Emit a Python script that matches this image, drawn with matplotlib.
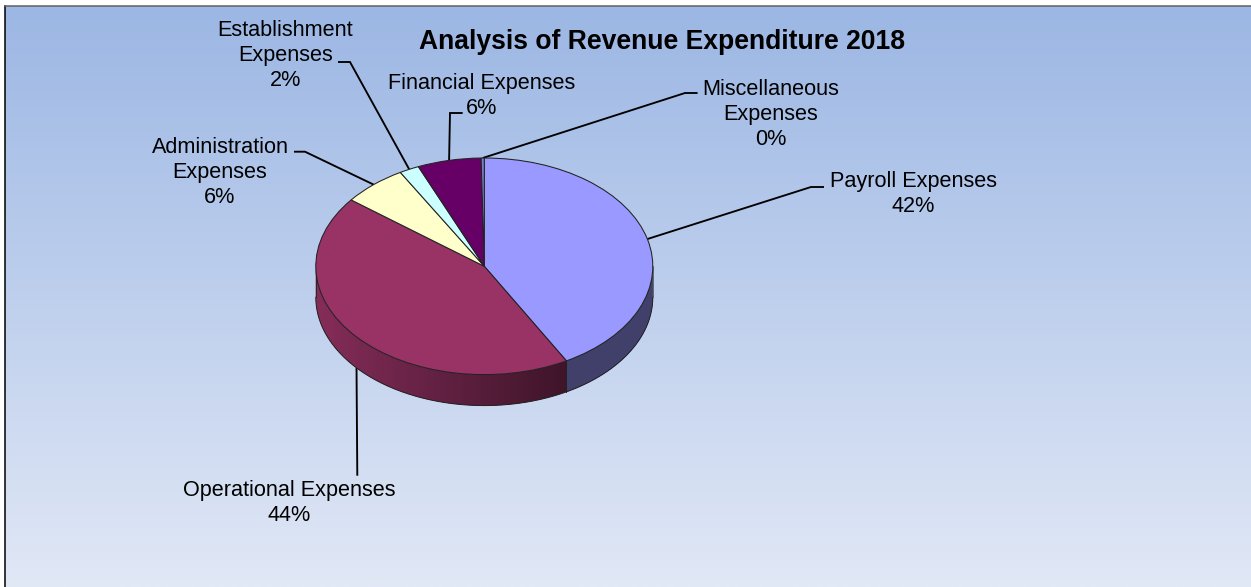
import numpy as np
from matplotlib import pyplot as plt
from matplotlib.colors import LinearSegmentedColormap, to_rgb

plt.rcParams['font.family'] = ['Liberation Sans', 'DejaVu Sans']

title = 'Analysis of Revenue Expenditure 2018'
categories = ['Payroll Expenses', 'Operational Expenses', 'Administration\nExpenses',
              'Establishment\nExpenses', 'Financial Expenses', 'Miscellaneous\nExpenses']
values = [41.9, 43.6, 6.2, 1.9, 6.1, 0.3]
colors = ['#9999FF', '#993366', '#FFFFCC', '#CCFFFF', '#660066', '#7C7CC4']

# label centres and leader elbows, image pixels
label_pos = [(913, 194.5), (289, 503), (220, 172.5), (285.5, 55), (482, 96), (771, 114.5)]
leader_mid = [(811, 187), (357.3, 475.7), (305, 151.7), (350, 62), (450, 113), (685, 93)]
leader_end = [(824, 187), (357.3, 475.7), (294, 151.7), (338, 62), (462.7, 113), (697.6, 93)]

W, H = 1251, 587
cx, cy, rx, ry, depth = 484.3, 266.3, 168.5, 108.3, 31

fig = plt.figure(figsize=(W / 100, H / 100), dpi=100, facecolor='white')
bg = fig.add_axes([0, 0, 1, 1])
bg.set_xlim(0, W)
bg.set_ylim(H, 0)
bg.axis('off')

grad = LinearSegmentedColormap.from_list('bg', ['#9CB7E4', '#E1E8F6'])
bg.imshow(np.linspace(0, 1, 256).reshape(-1, 1), cmap=grad, aspect='auto',
          extent=(5, W, H, 6.5), zorder=0)
bg.set_xlim(0, W)
bg.set_ylim(H, 0)
bg.plot([5, 5], [6, H], color='black', lw=1.1, zorder=1)
bg.plot([5, W], [6.3, 6.3], color='#606060', lw=1.1, zorder=1)

bg.text(662, 42, title, fontsize=19.1, fontweight='bold', ha='center', va='center', color='black')

# angles clockwise from 12 o'clock
edges = np.concatenate([[0], np.cumsum(values)]) / np.sum(values) * 2 * np.pi
mids = (edges[:-1] + edges[1:]) / 2

for i, cat in enumerate(categories):
    x0 = cx + rx * np.sin(mids[i])
    y0 = cy - ry * np.cos(mids[i])
    if np.cos(mids[i]) < 0:
        y0 += depth  # label line starts at the bottom of the wall
    xm, ym = leader_mid[i]
    xe, ye = leader_end[i]
    bg.plot([x0, xm, xe], [y0, ym, ye], color='black', lw=1.35, zorder=2,
            solid_joinstyle='miter', solid_capstyle='butt')
    pct = f'{round(values[i])}%'
    bg.text(label_pos[i][0], label_pos[i][1], f'{cat}\n{pct}', fontsize=15.6, ha='center',
            va='center', linespacing=1.25, color='black', zorder=3)

# pie sits in its own axes, stretched to an ellipse
d = depth / ry
ax = fig.add_axes([(cx - rx) / W, 1 - (cy + ry + depth) / H, 2 * rx / W, (2 * ry + depth) / H])
ax.patch.set_alpha(0)

# side wall, only the front half shows
for i in range(len(values)):
    a0 = max(edges[i], np.pi / 2)
    a1 = min(edges[i + 1], 3 * np.pi / 2)
    if a1 <= a0:
        continue
    base = np.array(to_rgb(colors[i]))
    steps = np.linspace(a0, a1, 60)
    for s0, s1 in zip(steps[:-1], steps[1:]):
        sm = (s0 + s1) / 2
        if i == 0:
            shade = 0.42
        else:
            shade = 0.40 + 0.47 * (np.sin(sm) * -1 + 0.5) / 1.5
        tt = np.linspace(s0, min(s1 + 0.03, a1), 6)
        xs = np.sin(tt)
        ys = np.cos(tt)
        ax.fill(np.r_[xs, xs[::-1]], np.r_[ys, ys[::-1] - d], color=base * shade, lw=0, zorder=1)

tt = np.linspace(np.pi / 2, 3 * np.pi / 2, 200)
ax.plot(np.sin(tt), np.cos(tt) - d, color='#222222', lw=0.7, zorder=2)
ax.plot([1, 1], [0, -d], color='#555555', lw=0.6, zorder=2)
ax.plot([-1, -1], [0, -d], color='#222222', lw=0.6, zorder=2)
ax.plot([np.sin(edges[1])] * 2, [np.cos(edges[1]), np.cos(edges[1]) - d], color='#222222', lw=0.7, zorder=2)

wedges, _ = ax.pie(values, colors=colors, startangle=90, counterclock=False, radius=1,
                   wedgeprops={'edgecolor': '#222222', 'linewidth': 0.75, 'zorder': 3})
ax.set_aspect('auto')
ax.set_xlim(-1, 1)
ax.set_ylim(-1 - d, 1)
ax.set_axis_off()
for c in ax.get_children():
    c.set_clip_on(False)

fig.savefig('out.png', dpi=100, facecolor='white')
